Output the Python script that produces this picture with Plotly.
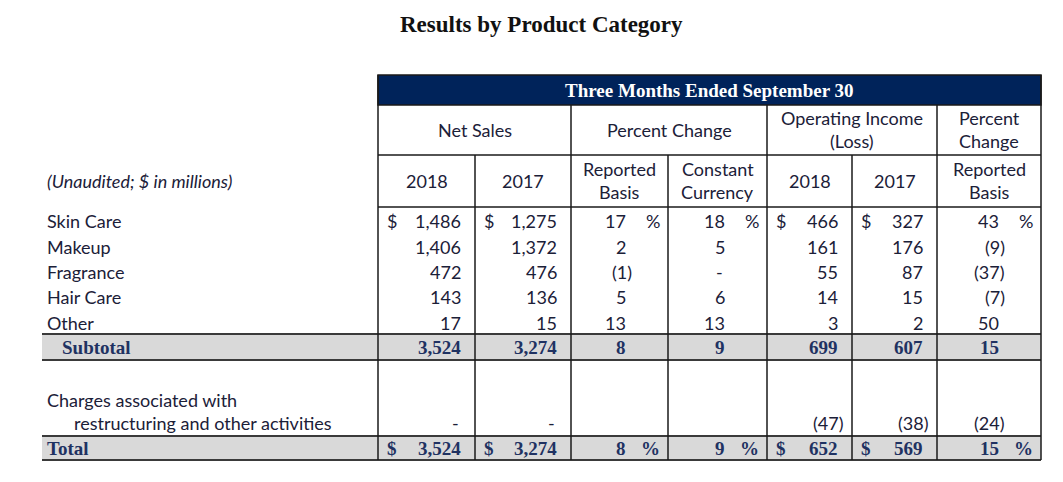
import plotly.graph_objects as go

# ---------------- data ----------------
title = "Results by Product Category"
band_title = "Three Months Ended September 30"
unit_note = "(Unaudited; $ in millions)"
group_headers = [["Net Sales"], ["Percent Change"], ["Operating Income", "(Loss)"], ["Percent", "Change"]]
sub_headers = [["2018"], ["2017"], ["Reported", "Basis"], ["Constant", "Currency"],
               ["2018"], ["2017"], ["Reported", "Basis"]]
column_kinds = ["cur", "cur", "pct", "pct", "cur", "cur", "pct"]

categories = ["Skin Care", "Makeup", "Fragrance", "Hair Care", "Other"]
net_sales_2018 = [1486, 1406, 472, 143, 17]
net_sales_2017 = [1275, 1372, 476, 136, 15]
pct_change_reported = [17, 2, -1, 5, 13]
pct_change_constant = [18, 5, None, 6, 13]
op_income_2018 = [466, 161, 55, 14, 3]
op_income_2017 = [327, 176, 87, 15, 2]
op_income_pct_reported = [43, -9, -37, -7, 50]

subtotal_label = "Subtotal"
subtotal_values = [3524, 3274, 8, 9, 699, 607, 15]
charges_label = ["Charges associated with", "restructuring and other activities"]
charges_values = [None, None, "", "", -47, -38, -24]
total_label = "Total"
total_values = [3524, 3274, 8, 9, 652, 569, 15]

# ---------------- layout constants ----------------
W, H = 1063, 482
OFF = 8  # page body margin
col_edges = [378, 475, 571, 668, 767, 852, 937, 1041]
group_spans = [(0, 2), (2, 4), (4, 6), (6, 7)]
row_y = [221, 247, 272, 297, 323]
y_top, y_band, y_hdr2, y_hdr3 = 75, 105, 155, 207
sub_top, sub_bot, tot_top, tot_bot = 334, 360, 436, 460
left_x = 42
label_x = 45

TXT = "#1b2038"
BOLD_TXT = "#1f3262"
NAVY = "#00235a"
SANS = "Lato, Open Sans, sans-serif"
SERIF = "Liberation Serif, serif"
FS = 18
BFS = 19

fig = go.Figure()
fig.add_trace(go.Scatter(x=[OFF, W], y=[OFF, H], mode="markers", marker=dict(opacity=0),
                         hoverinfo="skip", showlegend=False))

shapes = []
ann = []


def text(x, y, s, anchor="left", size=FS, font=SANS, color=None, bold=False, italic=False):
    if color is None:
        color = BOLD_TXT if bold else TXT
    if bold:
        s = f"<b>{s}</b>"
    if italic:
        s = f"<i>{s}</i>"
    ann.append(dict(x=x, y=y, xref="x", yref="y", text=s, showarrow=False,
                    xanchor=anchor, yanchor="middle",
                    font=dict(family=font, size=size, color=color)))


def hline(y, x0, x1, w=1.5, c="#1a1a1a"):
    shapes.append(dict(type="line", xref="x", yref="y", x0=x0, x1=x1, y0=y, y1=y,
                       line=dict(color=c, width=w)))


def vline(x, y0, y1, w=1.5, c="#1a1a1a"):
    shapes.append(dict(type="line", xref="x", yref="y", x0=x, x1=x, y0=y0, y1=y1,
                       line=dict(color=c, width=w)))


def fmt(v):
    if v is None:
        return "-"
    if v == "":
        return ""
    if v < 0:
        return f"({abs(v):,})"
    return f"{v:,}"


def cell(ci, y, v, symbol=False, bold=False):
    s = fmt(v)
    l, r = col_edges[ci], col_edges[ci + 1]
    kind = column_kinds[ci]
    font = SERIF if bold else SANS
    size = BFS if bold else FS
    num_r = r - 14 if kind == "cur" else r - 42
    if s == "-":
        text(num_r, y, s, "right", size, font, bold=bold)
    elif s.endswith(")"):
        text(num_r + 8, y, s, "right", size, font, bold=bold)
    elif s:
        text(num_r + 2, y, s, "right", size, font, bold=bold)
    if symbol:
        if kind == "cur":
            text(l + 7, y, "$", "left", size, font, bold=bold)
        else:
            text(r - 6, y, "%", "right", size, font, bold=bold)


# backgrounds
shapes.append(dict(type="rect", xref="x", yref="y", x0=left_x, x1=col_edges[-1], y0=sub_top, y1=sub_bot,
                   fillcolor="#d9d9d9", line=dict(width=0), layer="below"))
shapes.append(dict(type="rect", xref="x", yref="y", x0=left_x, x1=col_edges[-1], y0=tot_top, y1=tot_bot,
                   fillcolor="#d9d9d9", line=dict(width=0), layer="below"))
shapes.append(dict(type="rect", xref="x", yref="y", x0=col_edges[0], x1=col_edges[-1], y0=y_top, y1=y_band,
                   fillcolor=NAVY, line=dict(color="#1a1a1a", width=1.5)))

# grid
hline(y_hdr2, col_edges[0], col_edges[-1])
hline(y_hdr3, col_edges[0], col_edges[-1])
for y in (sub_top, sub_bot, tot_top, tot_bot):
    hline(y, left_x, col_edges[-1], w=2, c="#3a3a3a")
vline(col_edges[0], y_top, tot_bot)
vline(col_edges[-1], y_top, tot_bot)
for a, b in group_spans[1:]:
    vline(col_edges[a], y_band, tot_bot)
for a, b in group_spans:
    for k in range(a + 1, b):
        vline(col_edges[k], y_hdr2, tot_bot)

# titles
text(541, 24, title, "center", 23, SERIF, color="#111111", bold=True)
text((col_edges[0] + col_edges[-1]) / 2, 90, band_title, "center", 19, SERIF, color="white", bold=True)

# group headers
for (a, b), lines in zip(group_spans, group_headers):
    cx = (col_edges[a] + col_edges[b]) / 2
    if len(lines) == 1:
        text(cx, 130, lines[0], "center")
    else:
        text(cx, 118, lines[0], "center")
        text(cx, 141, lines[1], "center")
for ci, lines in enumerate(sub_headers):
    cx = (col_edges[ci] + col_edges[ci + 1]) / 2
    if len(lines) == 1:
        text(cx, 181, lines[0], "center")
    else:
        text(cx, 169, lines[0], "center")
        text(cx, 192, lines[1], "center")

text(label_x, 181, unit_note, "left", 18, italic=True)

# data rows
cols = [net_sales_2018, net_sales_2017, pct_change_reported, pct_change_constant,
        op_income_2018, op_income_2017, op_income_pct_reported]
for ri, cat in enumerate(categories):
    y = row_y[ri]
    text(label_x, y, cat)
    for ci, col in enumerate(cols):
        cell(ci, y, col[ri], symbol=(ri == 0))

ysub = (sub_top + sub_bot) / 2
text(label_x + 15, ysub, subtotal_label, "left", BFS, SERIF, bold=True)
for ci, v in enumerate(subtotal_values):
    cell(ci, ysub, v, bold=True)

text(label_x, 400, charges_label[0])
text(label_x + 27, 423, charges_label[1])
for ci, v in enumerate(charges_values):
    cell(ci, 423, v)

ytot = (tot_top + tot_bot) / 2
text(label_x, ytot, total_label, "left", BFS, SERIF, bold=True)
for ci, v in enumerate(total_values):
    cell(ci, ytot, v, symbol=True, bold=True)

fig.update_layout(
    width=W - OFF, height=H - OFF, margin=dict(l=0, r=0, t=0, b=0),
    paper_bgcolor="white", plot_bgcolor="white",
    xaxis=dict(range=[OFF, W], visible=False, fixedrange=True),
    yaxis=dict(range=[H, OFF], visible=False, fixedrange=True),
    shapes=shapes, annotations=ann, showlegend=False,
)
fig.write_html("out.html")
